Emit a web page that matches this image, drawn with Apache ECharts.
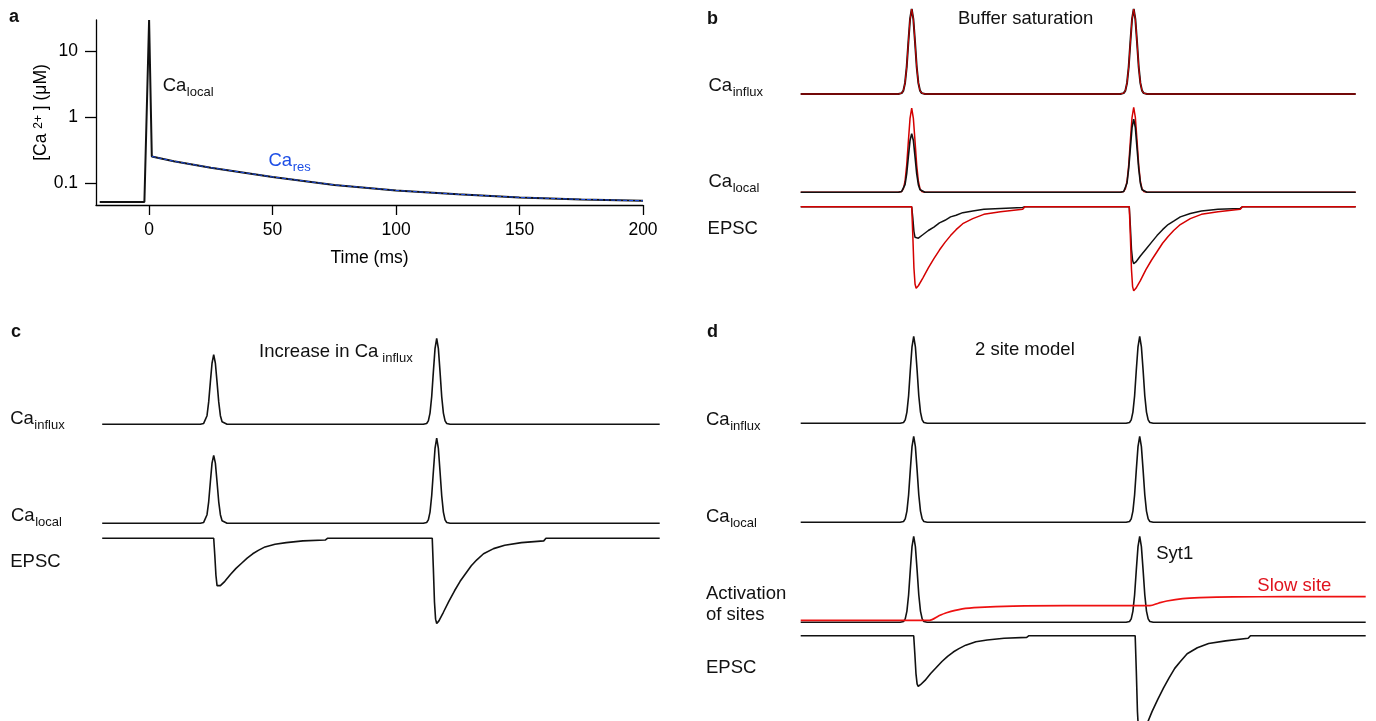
<!DOCTYPE html>
<html>
<head>
<meta charset="utf-8">
<title>Ca and EPSC traces</title>
<script src="https://cdn.jsdelivr.net/npm/echarts@6/dist/echarts.min.js"></script>
<style>
  html, body { margin: 0; padding: 0; background: #fff; }
  #chart { width: 1376px; height: 721px; }
</style>
</head>
<body>
<div id="chart"></div>
<script>
// panel a: [Ca2+] after one spike (time in ms, conc in uM)
const caLocalT = [-20, -1.9, 0, 1.1, 10, 25, 50, 75, 100, 125, 150, 175, 200]
const caLocalV = [0.051, 0.051, 30, 0.252, 0.213, 0.17, 0.123, 0.093, 0.0766, 0.067, 0.06, 0.056, 0.0534]
const caResT = [1.1, 10, 25, 50, 75, 100, 125, 150, 175, 200]
const caResV = [0.252, 0.213, 0.17, 0.123, 0.093, 0.0766, 0.067, 0.06, 0.056, 0.0534]
const timeTicks = [0, 50, 100, 150, 200]
const concTicks = [0.1, 1, 10]

// panels b-d: paired pulses, amplitudes normalised to the largest trace
const pulseT = [0, 8.8, 9.1, 9.25, 9.4, 9.55, 9.7, 9.85, 10, 10.15, 10.3, 10.45, 10.6, 10.75, 10.9, 11.2,
  28.8, 29.1, 29.25, 29.4, 29.55, 29.7, 29.85, 30, 30.15, 30.3, 30.45, 30.6, 30.75, 30.9, 31.2, 50]
const epscT = [0,
  10, 10.1, 10.2, 10.3, 10.4, 10.6, 11, 11.5, 12, 12.5, 13, 13.5, 14, 14.6, 15.5, 16.5, 18, 20, 20.2,
  29.6, 29.7, 29.8, 29.9, 30, 30.2, 30.6, 31.1, 31.6, 32.1, 32.6, 33.1, 33.6, 34.2, 35.1, 36.1, 37.6, 39.6, 39.8,
  50]
const slowT = [0, 11.4, 12.2, 12.9, 14.3, 15.8, 18.8, 23.4, 30.9, 31.7, 32.4, 33.8, 35.3, 38.3, 43, 50]

// b: buffer saturation (black = control, red = saturated buffer)
const bInfluxV = [0, 0, 0.01, 0.04, 0.13, 0.32, 0.61, 0.88, 1, 0.88, 0.61, 0.32, 0.13, 0.04, 0.01, 0,
  0, 0.01, 0.04, 0.13, 0.32, 0.61, 0.88, 1, 0.88, 0.61, 0.32, 0.13, 0.04, 0.01, 0, 0]
const bLocalBlackV = [0, 0, 0.01, 0.03, 0.09, 0.22, 0.42, 0.61, 0.69, 0.61, 0.42, 0.22, 0.09, 0.03, 0.01, 0,
  0, 0.01, 0.03, 0.11, 0.28, 0.52, 0.76, 0.86, 0.76, 0.52, 0.28, 0.11, 0.03, 0.01, 0, 0]
const bLocalRedV = [0, 0, 0.01, 0.04, 0.13, 0.32, 0.6, 0.87, 0.99, 0.87, 0.6, 0.32, 0.13, 0.04, 0.01, 0,
  0, 0.01, 0.04, 0.13, 0.32, 0.61, 0.88, 1, 0.88, 0.61, 0.32, 0.13, 0.04, 0.01, 0, 0]
const bEpscBlackV = [0,
  0, -0.13, -0.29, -0.36, -0.38, -0.37, -0.33, -0.28, -0.24, -0.19, -0.16, -0.12, -0.1, -0.07, -0.05, -0.03, -0.02, -0.01, 0,
  0, -0.23, -0.5, -0.63, -0.67, -0.65, -0.58, -0.5, -0.42, -0.34, -0.27, -0.21, -0.17, -0.12, -0.08, -0.05, -0.03, -0.02, 0,
  0]
const bEpscRedV = [0,
  0, -0.34, -0.72, -0.91, -0.96, -0.93, -0.84, -0.72, -0.61, -0.51, -0.42, -0.34, -0.27, -0.2, -0.14, -0.09, -0.06, -0.03, 0,
  0, -0.35, -0.74, -0.94, -0.99, -0.96, -0.87, -0.74, -0.63, -0.53, -0.43, -0.35, -0.28, -0.21, -0.14, -0.09, -0.06, -0.03, 0,
  0]

// c: increase in Ca influx
const cInfluxV = [0, 0, 0.01, 0.03, 0.1, 0.26, 0.49, 0.71, 0.81, 0.71, 0.49, 0.26, 0.1, 0.03, 0.01, 0,
  0, 0.01, 0.04, 0.13, 0.32, 0.61, 0.88, 1, 0.88, 0.61, 0.32, 0.13, 0.04, 0.01, 0, 0]
const cLocalV = [0, 0, 0.01, 0.03, 0.1, 0.25, 0.48, 0.7, 0.79, 0.7, 0.48, 0.25, 0.1, 0.03, 0.01, 0,
  0, 0.01, 0.04, 0.13, 0.32, 0.6, 0.87, 0.99, 0.87, 0.6, 0.32, 0.13, 0.04, 0.01, 0, 0]
const cEpscV = [0,
  0, -0.2, -0.43, -0.55, -0.57, -0.55, -0.5, -0.42, -0.35, -0.29, -0.23, -0.18, -0.14, -0.1, -0.07, -0.05, -0.03, -0.02, 0,
  0, -0.35, -0.74, -0.94, -0.99, -0.96, -0.86, -0.73, -0.61, -0.5, -0.41, -0.32, -0.25, -0.18, -0.12, -0.08, -0.05, -0.03, 0,
  0]

// d: 2 site model
const dInfluxV = [0, 0, 0.01, 0.04, 0.13, 0.32, 0.62, 0.89, 1.01, 0.89, 0.62, 0.32, 0.13, 0.04, 0.01, 0,
  0, 0.01, 0.04, 0.13, 0.32, 0.62, 0.89, 1.01, 0.89, 0.62, 0.32, 0.13, 0.04, 0.01, 0, 0]
const dLocalV = [0, 0, 0.01, 0.04, 0.13, 0.32, 0.61, 0.88, 1, 0.88, 0.61, 0.32, 0.13, 0.04, 0.01, 0,
  0, 0.01, 0.04, 0.13, 0.32, 0.61, 0.88, 1, 0.88, 0.61, 0.32, 0.13, 0.04, 0.01, 0, 0]
const dSyt1V = [0, 0, 0.01, 0.04, 0.13, 0.32, 0.61, 0.88, 1, 0.88, 0.61, 0.32, 0.13, 0.04, 0.01, 0,
  0, 0.01, 0.04, 0.13, 0.32, 0.61, 0.88, 1, 0.88, 0.61, 0.32, 0.13, 0.04, 0.01, 0, 0]
const dSlowV = [0.023, 0.023, 0.074, 0.111, 0.156, 0.174, 0.188, 0.193, 0.193, 0.225, 0.248, 0.275, 0.286, 0.295, 0.298, 0.298]
const dEpscV = [0,
  0, -0.21, -0.44, -0.56, -0.59, -0.57, -0.52, -0.44, -0.37, -0.3, -0.24, -0.19, -0.15, -0.11, -0.07, -0.05, -0.03, -0.02, 0,
  0, -0.41, -0.88, -1.12, -1.2, -1.16, -1.04, -0.88, -0.74, -0.61, -0.49, -0.38, -0.3, -0.21, -0.14, -0.09, -0.06, -0.03, 0,
  0]

const FONT = 'Liberation Sans, Arial, sans-serif'
const BLACK = '#111'
const RED = '#d40000'
const zip = (t, v) => t.map((x, i) => [x, v[i]])

// trace rows: baseline pixel, px per unit, visible range (grids must stay inside the canvas)
const rows = [
  { left: 800.7, width: 555, base: 94, u: 85, lo: -0.1, hi: 1.1 }, // 1 b influx
  { left: 800.7, width: 555, base: 192.3, u: 85, lo: -0.1, hi: 1.1 }, // 2 b local
  { left: 800.7, width: 555, base: 206.7, u: 85, lo: -1.1, hi: 0.1 }, // 3 b epsc
  { left: 102.2, width: 557.5, base: 424.3, u: 86, lo: -0.1, hi: 1.1 }, // 4 c influx
  { left: 102.2, width: 557.5, base: 523.3, u: 86, lo: -0.1, hi: 1.1 }, // 5 c local
  { left: 102.2, width: 557.5, base: 538.3, u: 86, lo: -1.1, hi: 0.1 }, // 6 c epsc
  { left: 800.7, width: 565, base: 423.3, u: 86, lo: -0.1, hi: 1.1 }, // 7 d influx
  { left: 800.7, width: 565, base: 522.3, u: 86, lo: -0.1, hi: 1.1 }, // 8 d local
  { left: 800.7, width: 565, base: 622.3, u: 86, lo: -0.1, hi: 1.1 }, // 9 d activation
  { left: 800.7, width: 565, base: 635.7, u: 86, lo: -0.98, hi: 0.1 } // 10 d epsc
]

const grids = [{ left: 96, top: 20, width: 547, height: 185 }]
const xAxes = [{
  type: 'value',
  gridIndex: 0,
  min: -21.5,
  max: 200,
  axisLine: { onZero: false, lineStyle: { color: '#000', width: 1.3 } },
  axisTick: { customValues: timeTicks, length: 10, lineStyle: { color: '#000', width: 1.3 } },
  axisLabel: { customValues: timeTicks, color: '#000', fontSize: 17.5, fontFamily: FONT, margin: 16 },
  splitLine: { show: false },
  name: 'Time (ms)',
  nameLocation: 'middle',
  nameGap: 44,
  nameTextStyle: { color: '#000', fontSize: 17.5, fontFamily: FONT }
}]
const yAxes = [{
  type: 'log',
  gridIndex: 0,
  min: 0.046,
  max: 30,
  axisLine: { show: true, onZero: false, lineStyle: { color: '#000', width: 1.3 } },
  axisTick: { show: true, customValues: concTicks, length: 11, lineStyle: { color: '#000', width: 1.3 } },
  axisLabel: { customValues: concTicks, color: '#000', fontSize: 17.5, fontFamily: FONT, margin: 18 },
  minorTick: { show: false },
  splitLine: { show: false },
  name: '{t|[Ca }{sup|2+}{t| ] (\u03bcM)}',
  nameLocation: 'middle',
  nameGap: 45.5,
  nameTextStyle: {
    color: '#000',
    fontFamily: FONT,
    rich: {
      t: { fontSize: 17.5, fontFamily: FONT, color: '#000', lineHeight: 17, verticalAlign: 'bottom', padding: [3, 0, 0, 0] },
      sup: { fontSize: 12, fontFamily: FONT, color: '#000', lineHeight: 12, verticalAlign: 'top' }
    }
  }
}]

rows.forEach((r, i) => {
  grids.push({ left: r.left, width: r.width, top: r.base - r.hi * r.u, height: (r.hi - r.lo) * r.u })
  xAxes.push({ type: 'value', gridIndex: i + 1, min: 0, max: 50, show: false })
  yAxes.push({ type: 'value', gridIndex: i + 1, min: r.lo, max: r.hi, show: false })
})

function trace(idx, t, v, color, width, z, smooth) {
  return {
    type: 'line',
    xAxisIndex: idx,
    yAxisIndex: idx,
    data: zip(t, v),
    symbol: 'none',
    smooth: smooth || false,
    clip: false,
    silent: true,
    z: z || 2,
    lineStyle: { color: color, width: width }
  }
}

const series = [
  {
    type: 'line', xAxisIndex: 0, yAxisIndex: 0, data: zip(caLocalT, caLocalV),
    symbol: 'none', silent: true, z: 2, lineStyle: { color: BLACK, width: 2 }
  },
  {
    type: 'line', xAxisIndex: 0, yAxisIndex: 0, data: zip(caResT, caResV),
    symbol: 'none', silent: true, z: 3, lineStyle: { color: '#1d4ee6', width: 1, type: [4, 2] }
  },
  trace(1, pulseT, bInfluxV, BLACK, 2, 2),
  trace(1, pulseT, bInfluxV, RED, 1, 3),
  trace(2, pulseT, bLocalRedV, RED, 1.5, 2),
  trace(2, pulseT, bLocalBlackV, BLACK, 1.6, 3),
  trace(3, epscT, bEpscBlackV, BLACK, 1.5, 2),
  trace(3, epscT, bEpscRedV, RED, 1.5, 3),
  trace(4, pulseT, cInfluxV, BLACK, 1.6),
  trace(5, pulseT, cLocalV, BLACK, 1.6),
  trace(6, epscT, cEpscV, BLACK, 1.6),
  trace(7, pulseT, dInfluxV, BLACK, 1.6),
  trace(8, pulseT, dLocalV, BLACK, 1.6),
  trace(9, pulseT, dSyt1V, BLACK, 1.6),
  trace(9, slowT, dSlowV, '#ee1111', 1.7, 3, 0.3),
  trace(10, epscT, dEpscV, BLACK, 1.6)
]

// text labels, y = top of the text box
const measure = document.createElement('canvas').getContext('2d')
function textWidth(s, size) {
  measure.font = size + 'px ' + FONT
  return measure.measureText(s).width
}
function label(x, y, text, opts) {
  opts = opts || {}
  return {
    type: 'text',
    x: x,
    y: y,
    silent: true,
    style: {
      text: text,
      fill: opts.color || '#111',
      font: (opts.bold ? 'bold ' : '') + (opts.size || 18.5) + 'px ' + FONT,
      verticalAlign: 'top'
    }
  }
}
// main text with a lowered, smaller subscript after it
function subLabel(x, y, main, sub, opts) {
  opts = opts || {}
  const gap = opts.gap || 0.5
  return {
    type: 'group',
    silent: true,
    children: [
      label(x, y, main, opts),
      label(x + textWidth(main, 18.5) + gap, y + 9.6, sub, { color: opts.color, size: 13 })
    ]
  }
}
const graphics = [
  label(9, 8, 'a', { bold: true, size: 18 }),
  label(707, 9.7, 'b', { bold: true, size: 18 }),
  label(11, 323, 'c', { bold: true, size: 18 }),
  label(707, 323, 'd', { bold: true, size: 18 }),
  subLabel(162.7, 76, 'Ca', 'local'),
  subLabel(268.5, 151.6, 'Ca', 'res', { color: '#1d4ee6' }),
  label(958, 9.3, 'Buffer saturation'),
  subLabel(708.5, 76, 'Ca', 'influx'),
  subLabel(708.5, 172.6, 'Ca', 'local'),
  label(707.6, 219.3, 'EPSC'),
  subLabel(259, 342.6, 'Increase in Ca', 'influx', { gap: 4 }),
  subLabel(10.2, 409.3, 'Ca', 'influx'),
  subLabel(11, 506, 'Ca', 'local'),
  label(10.2, 552.6, 'EPSC'),
  label(975, 340.3, '2 site model'),
  subLabel(706, 410.3, 'Ca', 'influx'),
  subLabel(706, 507, 'Ca', 'local'),
  label(1156.2, 544.3, 'Syt1'),
  label(1257.3, 576, 'Slow site', { color: '#e0141e' }),
  label(706, 584.3, 'Activation'),
  label(706, 605, 'of sites'),
  label(706, 658.3, 'EPSC')
]

const chart = echarts.init(document.getElementById('chart'))
chart.setOption({
  backgroundColor: '#fff',
  animation: false,
  textStyle: { fontFamily: FONT },
  grid: grids,
  xAxis: xAxes,
  yAxis: yAxes,
  series: series,
  graphic: graphics
})
</script>
</body>
</html>
